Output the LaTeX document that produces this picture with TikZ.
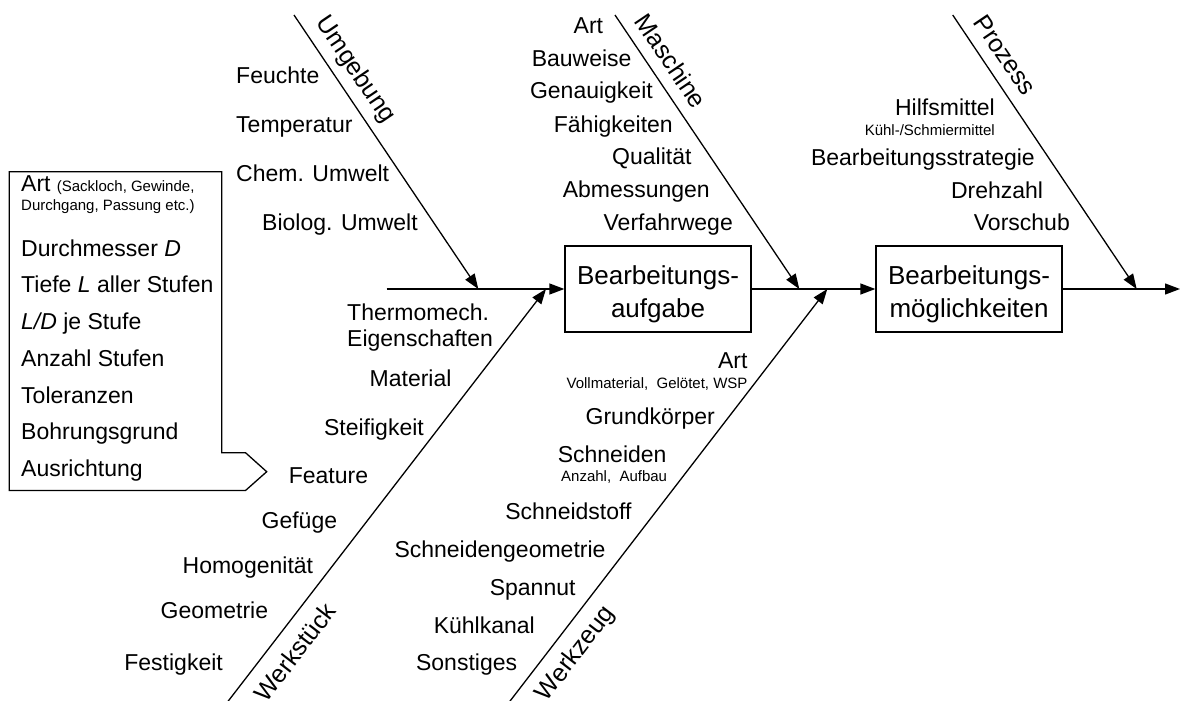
\documentclass[tikz,border=0pt]{standalone}
\usepackage{fontspec}
\setmainfont{Liberation Sans}
\usetikzlibrary{arrows.meta}

% font sizes (1pt = 1 unit of the drawing grid)
\newcommand\fLab{\fontsize{23}{27}\selectfont}
\newcommand\fSmall{\fontsize{15}{18}\selectfont}
\newcommand\fBox{\fontsize{26}{31}\selectfont}
\newcommand\fAxis{\fontsize{25}{30}\selectfont}

\begin{document}
\begin{tikzpicture}[x=1pt,y=-1pt,
  spine/.style={line width=1.3pt,-{Triangle[length=15pt,width=11pt]}},
  bone/.style={line width=1.3pt,-{Triangle[length=15pt,width=11pt]}},
  box/.style={draw,line width=1.3pt,minimum width=186pt,minimum height=86pt,inner sep=0pt},
  boxtext/.style={inner sep=0pt,font=\fBox,anchor=base},
  lab/.style={inner sep=0pt,font=\fLab},
  labR/.style={lab,anchor=base east},
  labL/.style={lab,anchor=base west},
  noteR/.style={inner sep=0pt,font=\fSmall,anchor=base east},
  noteL/.style={inner sep=0pt,font=\fSmall,anchor=base west},
  axis/.style={inner sep=0pt,font=\fAxis}]
\useasboundingbox (0,0) rectangle (1180,701);

% --- main spine with the two result boxes ---
\node[box] (aufgabe) at (658,289) {};
\node[boxtext] (aufgabeA) at (658,284) {Bearbeitungs-};
\node[boxtext] (aufgabeB) at (658,317) {aufgabe};
\node[box] (moeglich) at (969,289) {};
\node[boxtext] (moeglichA) at (969,284) {Bearbeitungs-};
\node[boxtext] (moeglichB) at (969,317) {möglichkeiten};

\coordinate (sStart) at (386.7,289);
\coordinate (sEnd) at (1180,289);
\draw[spine] (sStart) -- (aufgabe.west);
\draw[spine] (aufgabe.east) -- (moeglich.west);
\draw[spine] (moeglich.east) -- (sEnd);

% --- cause bones ---
\coordinate (uTop) at (294,15);     \coordinate (uTip) at (478.3,289);
\coordinate (mTop) at (615,15);     \coordinate (mTip) at (799.3,289);
\coordinate (pTop) at (952.7,15);   \coordinate (pTip) at (1136.7,289);
\coordinate (wsBot) at (227.5,702); \coordinate (wsTip) at (546,289);
\coordinate (wzBot) at (509.3,702); \coordinate (wzTip) at (827.3,289);
\draw[bone] (uTop) -- (uTip);
\draw[bone] (mTop) -- (mTip);
\draw[bone] (pTop) -- (pTip);
\draw[bone] (wsBot) -- (wsTip);
\draw[bone] (wzBot) -- (wzTip);

% --- bone titles ---
\node[axis,rotate=-55.9] (uLab) at (355,70) {Umgebung};
\node[axis,rotate=-55.9] (mLab) at (671,61) {Maschine};
\node[axis,rotate=-55.9] (pLab) at (1005,55) {Prozess};
\node[axis,rotate=52.4] (wsLab) at (295,652) {Werkstück};
\node[axis,rotate=52.4] (wzLab) at (576,654) {Werkzeug};

% --- Umgebung ---
\node[labL] (u1) at (236,83) {Feuchte};
\node[labL] (u2) at (236,132) {Temperatur};
\node[labL] (u3) at (236,181) {Chem. Umwelt};
\node[labL] (u4) at (262,230) {Biolog. Umwelt};

% --- Maschine ---
\node[labR] (m1) at (603.3,34) {Art};
\node[labR] (m2) at (631.7,66.5) {Bauweise};
\node[labR] (m3) at (653,99) {Genauigkeit};
\node[labR] (m4) at (673,132) {Fähigkeiten};
\node[labR] (m5) at (691.7,164.5) {Qualität};
\node[labR] (m6) at (710,197) {Abmessungen};
\node[labR] (m7) at (733,230) {Verfahrwege};

% --- Prozess ---
\node[labR] (p1) at (995,115) {Hilfsmittel};
\node[noteR] (p1n) at (995,135) {Kühl-/Schmiermittel};
\node[labR] (p2) at (1035,165) {Bearbeitungsstrategie};
\node[labR] (p3) at (1043.3,198) {Drehzahl};
\node[labR] (p4) at (1070,230) {Vorschub};

% --- Werkstück ---
\node[labL] (ws1) at (347,320) {Thermomech.};
\node[labL] (ws1b) at (347,346.7) {Eigenschaften};
\node[labR] (ws2) at (451.7,386) {Material};
\node[labR] (ws3) at (424,435) {Steifigkeit};
\node[labR] (ws4) at (368.3,483.3) {Feature};
\node[labR] (ws5) at (337.3,528.3) {Gefüge};
\node[labR] (ws6) at (313.3,573.3) {Homogenität};
\node[labR] (ws7) at (268.3,618.3) {Geometrie};
\node[labR] (ws8) at (223,670) {Festigkeit};

% --- Werkzeug ---
\node[labR] (wz1) at (747.7,368.3) {Art};
\node[noteR] (wz1n) at (747.7,388.3) {Vollmaterial,\ \ Gelötet, WSP};
\node[labR] (wz2) at (715,424.3) {Grundkörper};
\node[labR] (wz3) at (666.7,462.3) {Schneiden};
\node[noteR] (wz3n) at (667.3,481.7) {Anzahl,\ \ Aufbau};
\node[labR] (wz4) at (631.7,519.3) {Schneidstoff};
\node[labR] (wz5) at (605.7,557.3) {Schneidengeometrie};
\node[labR] (wz6) at (575.7,595) {Spannut};
\node[labR] (wz7) at (535,633.3) {Kühlkanal};
\node[labR] (wz8) at (517.3,670.7) {Sonstiges};

% --- feature callout ---
\draw[line width=1.3pt,line join=miter]
  (9.3,171.7) -- (221.7,171.7) -- (221.7,452.7) -- (245.5,452.7)
  -- (266.7,471.7) -- (245.5,490.5) -- (9.3,490.5) -- cycle;
\node[labL] (f1) at (21,191.5) {Art};
\node[noteL] (f1n) at (56.7,191.5) {(Sackloch, Gewinde,};
\node[noteL] (f1m) at (21,210) {Durchgang, Passung etc.)};
\node[labL] (f2) at (21,256) {Durchmesser \textit{D}};
\node[labL] (f3) at (21,292.8) {Tiefe \textit{L} aller Stufen};
\node[labL] (f4) at (21,329.5) {\textit{L/D} je Stufe};
\node[labL] (f5) at (21,366.3) {Anzahl Stufen};
\node[labL] (f6) at (21,403) {Toleranzen};
\node[labL] (f7) at (21,439.8) {Bohrungsgrund};
\node[labL] (f8) at (21,476.5) {Ausrichtung};
\end{tikzpicture}
\end{document}
